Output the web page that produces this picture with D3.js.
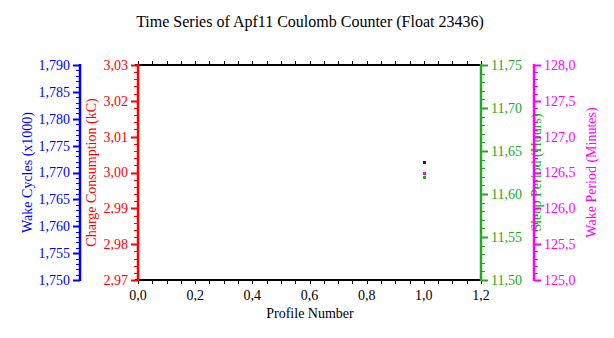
<!DOCTYPE html>
<html>
<head>
<meta charset="utf-8">
<script src="https://cdn.jsdelivr.net/npm/d3@7"></script>
<style>
  body { margin: 0; background: #fff; }
  text { font-family: "Liberation Serif", "DejaVu Serif", serif; }
</style>
</head>
<body>
<div id="chart"></div>
<script>
// data
var profiles = [1];
var wakeCycles = [1.772];      // x1000
var charge = [3.00];           // kC
var sleepPeriod = [11.62];     // hours
var wakePeriod = [126.5];      // minutes

var xTicks = [0, 0.2, 0.4, 0.6, 0.8, 1.0, 1.2];

var width = 614, height = 338,
    pLeft = 138, pRight = 481, pTop = 65, pBottom = 280;

var svg = d3.select("#chart").append("svg")
    .attr("width", width)
    .attr("height", height);

var fmt = function(n) { return function(d) { return d3.format("." + n + "f")(d).replace(".", ","); }; };

var x = d3.scaleLinear().domain([0, 1.2]).range([pLeft, pRight]);
var yBlue = d3.scaleLinear().domain([1.750, 1.790]).range([pBottom, pTop]);
var yRed = d3.scaleLinear().domain([2.97, 3.03]).range([pBottom, pTop]);
var yGreen = d3.scaleLinear().domain([11.50, 11.75]).range([pBottom, pTop]);
var yMag = d3.scaleLinear().domain([125, 128]).range([pBottom, pTop]);

// title
svg.append("text")
    .attr("x", 310).attr("y", 27)
    .attr("text-anchor", "middle")
    .style("font-size", "16px")
    .text("Time Series of Apf11 Coulomb Counter (Float 23436)");

function minor(scale, step, sub) {
  var d = scale.domain(), out = [];
  var n = Math.round((d[1] - d[0]) / step * sub);
  for (var i = 0; i <= n; i++) out.push(d[0] + i * step / sub);
  return out;
}

// frame top and bottom with x ticks
[pTop, pBottom].forEach(function(yy) {
  var dir = yy === pTop ? -1 : 1;
  svg.selectAll(null).data(minor(x, 0.2, 4)).enter().append("line")
      .attr("x1", function(d) { return Math.round(x(d)) + 0.5; })
      .attr("x2", function(d) { return Math.round(x(d)) + 0.5; })
      .attr("y1", yy).attr("y2", yy + dir * 4)
      .attr("stroke", "#000").attr("stroke-width", 1);
  svg.append("line")
      .attr("x1", pLeft - 3).attr("x2", pRight).attr("y1", yy).attr("y2", yy)
      .attr("stroke", "#000").attr("stroke-width", 2);
});

// draw a vertical axis with major + minor ticks
function yAxis(scale, xpos, side, color, step, digits, label, labelX) {
  var g = svg.append("g").attr("transform", "translate(" + xpos + ",0)");
  var dir = side === "left" ? -1 : 1;
  var majors = d3.range(0, Math.round((scale.domain()[1] - scale.domain()[0]) / step) + 1)
      .map(function(i) { return scale.domain()[0] + i * step; });

  g.selectAll(".minor").data(minor(scale, step, 5)).enter().append("line")
      .attr("x1", 0).attr("x2", dir * 4)
      .attr("y1", function(d) { return Math.round(scale(d)) + 0.5; })
      .attr("y2", function(d) { return Math.round(scale(d)) + 0.5; })
      .attr("stroke", color).attr("stroke-width", 1);
  g.selectAll(".major").data(majors).enter().append("line")
      .attr("x1", 0).attr("x2", dir * 7)
      .attr("y1", function(d) { return Math.round(scale(d)) + 0.5; })
      .attr("y2", function(d) { return Math.round(scale(d)) + 0.5; })
      .attr("stroke", color).attr("stroke-width", 2);
  g.append("line")
      .attr("x1", 0).attr("x2", 0).attr("y1", pTop - 1).attr("y2", pBottom + 1)
      .attr("stroke", color).attr("stroke-width", 2.5);
  g.selectAll(".lab").data(majors).enter().append("text")
      .attr("x", dir * 10)
      .attr("y", function(d) { return scale(d); })
      .attr("dy", "0.35em")
      .attr("text-anchor", side === "left" ? "end" : "start")
      .attr("fill", color)
      .style("font-size", "14px")
      .text(fmt(digits));

  svg.append("text")
      .attr("transform", "translate(" + labelX + "," + (pTop + pBottom) / 2 + ")rotate(-90)")
      .attr("text-anchor", "middle")
      .attr("dy", "0.35em")
      .attr("fill", color)
      .style("font-size", "14px")
      .text(label);
}

svg.selectAll(".xlab").data(xTicks).enter().append("text")
    .attr("x", function(d) { return x(d); })
    .attr("y", 300)
    .attr("text-anchor", "middle")
    .style("font-size", "14px")
    .text(fmt(1));

svg.append("text")
    .attr("x", 310).attr("y", 318)
    .attr("text-anchor", "middle")
    .style("font-size", "14px")
    .text("Profile Number");

yAxis(yBlue, 80, "left", "#0000ff", 0.005, 3, "Wake Cycles (x1000)", 27);
yAxis(yRed, pLeft, "left", "#ff0000", 0.01, 2, "Charge Consumption (kC)", 91);
yAxis(yGreen, pRight, "right", "#22aa22", 0.05, 2, "Sleep Period (Hours)", 536);
yAxis(yMag, 534, "right", "#ff00ff", 0.5, 1, "Wake Period (Minutes)", 591);

// points
function pts(vals, scale, color) {
  svg.selectAll(null).data(profiles).enter().append("rect")
      .attr("x", function(d) { return Math.round(x(d)) - 1; })
      .attr("y", function(d, i) { return Math.round(scale(vals[i])) - 1; })
      .attr("width", 3).attr("height", 3)
      .attr("fill", color);
}
pts(wakeCycles, yBlue, "#0000ff");
pts(charge, yRed, "#ff0000");
pts(sleepPeriod, yGreen, "#22aa22");
pts(wakePeriod, yMag, "#ff00ff");
</script>
</body>
</html>
